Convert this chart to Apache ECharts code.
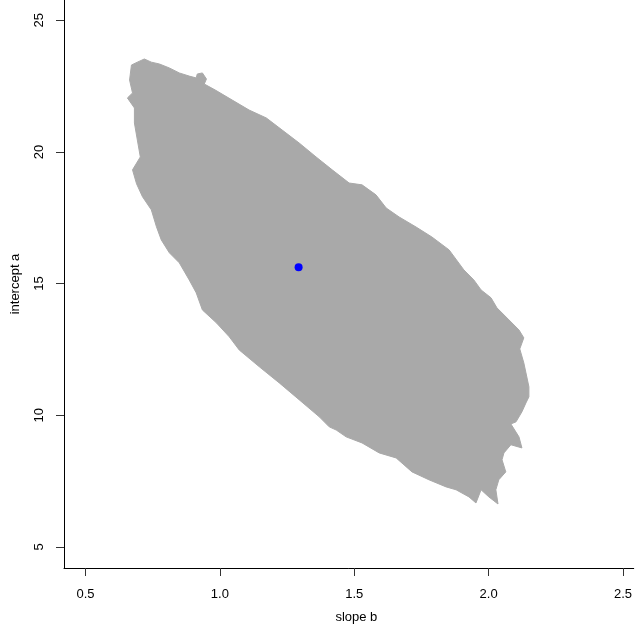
<!DOCTYPE html>
<html>
<head>
<meta charset="utf-8">
<script src="https://cdn.jsdelivr.net/npm/echarts@6/dist/echarts.min.js"></script>
<style>
  html, body { margin: 0; padding: 0; background: #fff; }
  #chart { width: 635px; height: 632px; }
</style>
</head>
<body>
<div id="chart"></div>
<script>
// outline of the gray region (slope b, intercept a), clockwise from top-left
const regionSlope = [
  0.671, 0.693, 0.719, 0.745, 0.775, 0.812, 0.849, 0.886, 0.912, 0.916,
  0.935, 0.950, 0.942, 0.983, 1.046, 1.109, 1.173, 1.232, 1.295, 1.358,
  1.418, 1.481, 1.529, 1.581, 1.619, 1.667, 1.730, 1.789, 1.853, 1.908,
  1.945, 1.972, 2.009, 2.031, 2.076, 2.113, 2.131, 2.116, 2.131, 2.139,
  2.150, 2.150, 2.139, 2.124, 2.102, 2.083, 2.113, 2.124, 2.083, 2.057,
  2.050, 2.064, 2.038, 2.027, 2.035, 2.001, 1.972, 1.953, 1.927, 1.879,
  1.842, 1.778, 1.715, 1.656, 1.593, 1.529, 1.470, 1.433, 1.407, 1.370,
  1.295, 1.221, 1.147, 1.072, 1.035, 0.987, 0.935, 0.912, 0.886, 0.849,
  0.812, 0.782, 0.764, 0.745, 0.712, 0.690, 0.675, 0.704, 0.693, 0.682,
  0.682, 0.656, 0.675, 0.664
];
const regionIntercept = [
  23.30, 23.41, 23.53, 23.41, 23.34, 23.19, 23.00, 22.88, 22.81, 22.96,
  23.00, 22.77, 22.58, 22.35, 21.97, 21.59, 21.29, 20.83, 20.34, 19.81,
  19.32, 18.82, 18.75, 18.37, 17.87, 17.53, 17.15, 16.77, 16.28, 15.52,
  15.14, 14.76, 14.46, 14.08, 13.62, 13.24, 12.94, 12.52, 11.99, 11.61,
  11.08, 10.70, 10.47, 10.13, 9.75, 9.67, 9.18, 8.76, 8.88, 8.57,
  8.31, 7.85, 7.55, 7.17, 6.63, 6.90, 7.17, 6.67, 6.90, 7.17,
  7.28, 7.55, 7.85, 8.38, 8.57, 8.95, 9.18, 9.44, 9.56, 9.94,
  10.59, 11.23, 11.84, 12.48, 12.98, 13.51, 14.00, 14.65, 15.14, 15.79,
  16.17, 16.66, 17.16, 17.80, 18.30, 18.79, 19.32, 19.81, 20.45, 21.10,
  21.67, 22.05, 22.24, 22.73
];
// point estimate
const estSlope = [1.293];
const estIntercept = [15.62];

const xTicks = [0.5, 1.0, 1.5, 2.0, 2.5];
const yTicks = [5, 10, 15, 20, 25];

const chart = echarts.init(document.getElementById('chart'));

const font = 'Liberation Sans, Arial, Helvetica, sans-serif';
const regionData = regionSlope.map((x, i) => [x, regionIntercept[i]]);

const option = {
  animation: false,
  backgroundColor: '#fff',
  grid: { left: 64, right: 0, top: 0, bottom: 64 },
  xAxis: {
    type: 'value',
    min: 0.42,
    max: 2.54,
    name: 'slope b',
    nameLocation: 'middle',
    nameGap: 43,
    nameTextStyle: { color: '#000', fontSize: 13, fontFamily: font, padding: [0, 0, 0, 15] },
    axisLine: { show: true, lineStyle: { color: '#000', width: 1 } },
    axisTick: { show: true, length: 8, customValues: xTicks, lineStyle: { color: '#333' } },
    axisLabel: {
      customValues: xTicks,
      margin: 20,
      color: '#000',
      fontSize: 13,
      fontFamily: font,
      formatter: v => v.toFixed(1)
    },
    splitLine: { show: false }
  },
  yAxis: {
    type: 'value',
    min: 4.2,
    max: 25.77,
    name: 'intercept a',
    nameLocation: 'middle',
    nameGap: 42,
    nameTextStyle: { color: '#000', fontSize: 13, fontFamily: font },
    axisLine: { show: true, lineStyle: { color: '#000', width: 1 } },
    axisTick: { show: true, length: 8, customValues: yTicks, lineStyle: { color: '#333' } },
    axisLabel: {
      customValues: yTicks,
      rotate: 90,
      margin: 18,
      color: '#000',
      fontSize: 13,
      fontFamily: font
    },
    splitLine: { show: false }
  },
  series: [
    {
      type: 'custom',
      data: regionData,
      silent: true,
      renderItem: function (params, api) {
        if (params.dataIndex !== 0) return;
        const pts = regionData.map(p => api.coord(p));
        return {
          type: 'polygon',
          shape: { points: pts },
          style: { fill: '#A9A9A9', stroke: '#A9A9A9', lineWidth: 1 }
        };
      }
    },
    {
      type: 'scatter',
      data: estSlope.map((x, i) => [x, estIntercept[i]]),
      symbol: 'circle',
      symbolSize: 8,
      itemStyle: { color: '#0000FF', opacity: 1 },
      z: 5
    }
  ]
};

chart.setOption(option);
</script>
</body>
</html>
